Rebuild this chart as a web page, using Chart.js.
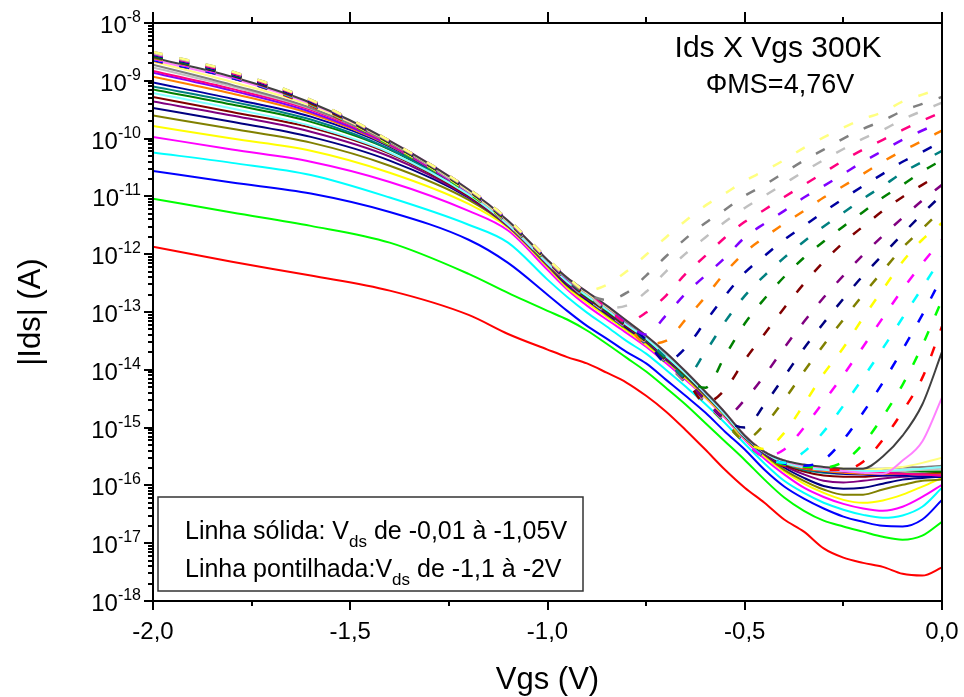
<!DOCTYPE html>
<html>
<head>
<meta charset="utf-8">
<script src="https://cdn.jsdelivr.net/npm/chart.js@4.4.1/dist/chart.umd.min.js"></script>
<style>
  html, body { margin: 0; padding: 0; background: #fff; }
  #wrap { width: 964px; height: 697px; }
</style>
</head>
<body>
<div id="wrap"><canvas id="chart" width="964" height="697"></canvas></div>
<script>
// Vgs sample points (V)
const vgs = [-2.0, -1.8, -1.6, -1.4, -1.2, -1.1, -1.0, -0.95, -0.9, -0.85, -0.8, -0.75, -0.7, -0.65, -0.6,
  -0.55, -0.5, -0.45, -0.4, -0.35, -0.3, -0.25, -0.2, -0.15, -0.1, -0.05, 0.0];

// Vds of each curve
const solidVds = [-0.01, -0.05, -0.1, -0.15, -0.2, -0.25, -0.3, -0.35, -0.4, -0.45, -0.5, -0.55, -0.6,
  -0.65, -0.7, -0.75, -0.8, -0.85, -0.9, -0.95, -1.0, -1.05];
const dashVds = [-1.1, -1.15, -1.2, -1.25, -1.3, -1.35, -1.4, -1.45, -1.5, -1.55, -1.6, -1.65, -1.7,
  -1.75, -1.8, -1.85, -1.9, -1.95, -2.0];

// |Ids|, stored as log10(A)
// solid lines, Vds -0.01 ... -1.05
const s01 = [-11.87,-12.13,-12.37,-12.63,-13.05,-13.38,-13.65,-13.78,-13.89,-14.05,-14.22,-14.45,-14.72,-15.04,-15.38,-15.73,-16.04,-16.30,-16.59,-16.80,-17.09,-17.25,-17.34,-17.41,-17.53,-17.56,-17.42];
const s02 = [-11.04,-11.28,-11.51,-11.80,-12.34,-12.67,-12.98,-13.13,-13.32,-13.55,-13.79,-14.03,-14.31,-14.60,-14.92,-15.24,-15.56,-15.90,-16.21,-16.44,-16.61,-16.71,-16.80,-16.89,-16.94,-16.87,-16.63];
const s03 = [-10.56,-10.76,-10.95,-11.27,-11.75,-12.15,-12.70,-12.98,-13.24,-13.46,-13.69,-13.89,-14.17,-14.45,-14.74,-15.07,-15.38,-15.73,-16.02,-16.23,-16.40,-16.54,-16.63,-16.70,-16.71,-16.59,-16.25];
const s04 = [-10.24,-10.42,-10.63,-11.02,-11.49,-11.80,-12.44,-12.74,-13.01,-13.25,-13.50,-13.72,-14.00,-14.29,-14.59,-14.92,-15.28,-15.62,-15.92,-16.13,-16.30,-16.42,-16.51,-16.56,-16.52,-16.37,-16.04];
const s05 = [-9.97,-10.19,-10.40,-10.75,-11.25,-11.59,-12.27,-12.61,-12.89,-13.13,-13.36,-13.60,-13.88,-14.17,-14.48,-14.83,-15.21,-15.54,-15.81,-16.04,-16.20,-16.32,-16.40,-16.44,-16.37,-16.20,-15.99];
const s06 = [-9.78,-10.00,-10.21,-10.59,-11.13,-11.54,-12.22,-12.58,-12.84,-13.08,-13.32,-13.57,-13.84,-14.14,-14.47,-14.81,-15.19,-15.50,-15.76,-15.97,-16.13,-16.25,-16.30,-16.26,-16.16,-16.02,-15.87];
const s07 = [-9.60,-9.83,-10.07,-10.47,-11.06,-11.52,-12.20,-12.55,-12.80,-13.05,-13.29,-13.53,-13.83,-14.12,-14.45,-14.79,-15.17,-15.47,-15.73,-15.92,-16.07,-16.16,-16.16,-16.07,-15.99,-15.92,-15.90];
const s08 = [-9.47,-9.71,-9.97,-10.38,-11.02,-11.51,-12.18,-12.53,-12.79,-13.03,-13.27,-13.51,-13.81,-14.10,-14.43,-14.79,-15.17,-15.45,-15.69,-15.87,-16.01,-16.06,-16.04,-15.97,-15.90,-15.87,-15.85];
const s09 = [-9.36,-9.60,-9.88,-10.31,-11.01,-11.51,-12.18,-12.51,-12.77,-13.01,-13.25,-13.50,-13.79,-14.10,-14.43,-14.78,-15.16,-15.45,-15.66,-15.81,-15.92,-15.95,-15.92,-15.88,-15.85,-15.83,-15.81];
const s10 = [-9.28,-9.54,-9.81,-10.26,-10.99,-11.49,-12.16,-12.49,-12.75,-12.99,-13.24,-13.48,-13.77,-14.09,-14.41,-14.78,-15.16,-15.43,-15.64,-15.76,-15.83,-15.85,-15.85,-15.83,-15.81,-15.80,-15.78];
const s11 = [-9.15,-9.41,-9.71,-10.19,-10.97,-11.47,-12.15,-12.48,-12.74,-12.98,-13.22,-13.48,-13.76,-14.09,-14.41,-14.78,-15.16,-15.43,-15.62,-15.73,-15.76,-15.78,-15.78,-15.78,-15.76,-15.76,-15.76];
const s12 = [-9.10,-9.36,-9.67,-10.18,-10.95,-11.47,-12.15,-12.46,-12.72,-12.96,-13.20,-13.46,-13.76,-14.07,-14.41,-14.76,-15.16,-15.43,-15.62,-15.73,-15.78,-15.80,-15.80,-15.81,-15.81,-15.83,-15.83];
const s13 = [-9.03,-9.31,-9.62,-10.14,-10.95,-11.47,-12.15,-12.46,-12.70,-12.94,-13.20,-13.46,-13.74,-14.07,-14.40,-14.76,-15.16,-15.43,-15.61,-15.71,-15.76,-15.80,-15.81,-15.83,-15.83,-15.85,-15.85];
const s14 = [-8.93,-9.22,-9.57,-10.12,-10.94,-11.46,-12.13,-12.44,-12.70,-12.94,-13.19,-13.44,-13.74,-14.07,-14.40,-14.76,-15.14,-15.42,-15.61,-15.71,-15.75,-15.78,-15.80,-15.80,-15.80,-15.81,-15.81];
const s15 = [-8.86,-9.17,-9.54,-10.11,-10.94,-11.46,-12.13,-12.44,-12.68,-12.93,-13.19,-13.44,-13.74,-14.05,-14.40,-14.76,-15.14,-15.42,-15.59,-15.69,-15.73,-15.76,-15.78,-15.78,-15.80,-15.81,-15.83];
const s16 = [-8.83,-9.14,-9.50,-10.09,-10.92,-11.46,-12.13,-12.42,-12.68,-12.93,-13.17,-13.43,-13.72,-14.05,-14.40,-14.76,-15.14,-15.42,-15.59,-15.69,-15.73,-15.75,-15.76,-15.78,-15.80,-15.81,-15.83];
const s17 = [-8.77,-9.10,-9.48,-10.07,-10.92,-11.44,-12.11,-12.42,-12.67,-12.91,-13.17,-13.43,-13.72,-14.05,-14.40,-14.74,-15.14,-15.42,-15.59,-15.68,-15.71,-15.73,-15.75,-15.75,-15.75,-15.73,-15.71];
const s18 = [-8.72,-9.07,-9.47,-10.07,-10.90,-11.44,-12.11,-12.42,-12.67,-12.91,-13.17,-13.43,-13.72,-14.03,-14.38,-14.74,-15.14,-15.42,-15.57,-15.66,-15.69,-15.71,-15.71,-15.71,-15.69,-15.68,-15.66];
const s19 = [-8.67,-9.02,-9.43,-10.05,-10.90,-11.44,-12.11,-12.41,-12.67,-12.91,-13.15,-13.41,-13.70,-14.03,-14.38,-14.74,-15.14,-15.42,-15.57,-15.66,-15.69,-15.71,-15.73,-15.71,-15.68,-15.61,-15.52];
const s20 = [-9.21,-9.48,-9.78,-10.24,-10.97,-11.49,-12.16,-12.48,-12.72,-12.96,-13.22,-13.46,-13.76,-14.07,-14.41,-14.78,-15.16,-15.43,-15.61,-15.69,-15.73,-15.75,-15.75,-15.75,-15.73,-15.71,-15.68];
const s21 = [-8.64,-8.96,-9.40,-10.04,-10.88,-11.42,-12.10,-12.41,-12.65,-12.89,-13.15,-13.41,-13.70,-14.03,-14.38,-14.74,-15.14,-15.42,-15.57,-15.66,-15.69,-15.75,-15.78,-15.80,-15.57,-15.24,-14.48];
const s22 = [-8.60,-8.93,-9.38,-10.04,-10.88,-11.42,-12.10,-12.41,-12.65,-12.89,-13.15,-13.41,-13.70,-14.03,-14.38,-14.74,-15.14,-15.42,-15.57,-15.64,-15.68,-15.71,-15.71,-15.50,-15.14,-14.60,-13.69];

// dashed lines, Vds -1.1 ... -2.0
const d01 = [-8.65,-8.95,-9.43,-10.11,-10.94,-11.47,-12.15,-12.49,-12.79,-13.03,-13.29,-13.55,-13.88,-14.22,-14.57,-14.92,-15.26,-15.52,-15.66,-15.69,-15.73,-15.73,-15.59,-15.21,-14.72,-14.14,-13.25];
const d02 = [-8.64,-8.95,-9.41,-10.11,-10.94,-11.47,-12.15,-12.48,-12.77,-13.03,-13.29,-13.55,-13.88,-14.22,-14.57,-14.92,-15.26,-15.52,-15.64,-15.68,-15.69,-15.59,-15.28,-14.81,-14.26,-13.58,-12.79];
const d03 = [-8.64,-8.95,-9.41,-10.09,-10.92,-11.46,-12.13,-12.48,-12.77,-13.03,-13.27,-13.55,-13.86,-14.21,-14.55,-14.90,-15.24,-15.50,-15.62,-15.66,-15.56,-15.21,-14.74,-14.22,-13.65,-13.05,-12.39];
const d04 = [-8.62,-8.93,-9.41,-10.09,-10.92,-11.46,-12.13,-12.48,-12.77,-13.01,-13.27,-13.53,-13.86,-14.21,-14.55,-14.90,-15.24,-15.50,-15.61,-15.42,-15.07,-14.62,-14.14,-13.63,-13.10,-12.58,-12.04];
const d05 = [-8.62,-8.93,-9.40,-10.09,-10.92,-11.46,-12.13,-12.48,-12.75,-13.01,-13.27,-13.53,-13.86,-14.21,-14.55,-14.90,-15.23,-15.49,-15.38,-15.00,-14.55,-14.09,-13.60,-13.10,-12.61,-12.16,-11.75];
const d06 = [-8.60,-8.91,-9.40,-10.09,-10.92,-11.46,-12.13,-12.46,-12.75,-13.01,-13.25,-13.53,-13.84,-14.19,-14.53,-14.88,-15.23,-15.37,-15.09,-14.60,-14.07,-13.62,-13.10,-12.61,-12.13,-11.75,-11.46];
const d07 = [-8.60,-8.91,-9.40,-10.07,-10.90,-11.44,-12.11,-12.46,-12.75,-12.99,-13.25,-13.51,-13.84,-14.19,-14.53,-14.88,-15.21,-14.95,-14.52,-14.03,-13.57,-13.13,-12.70,-12.29,-11.89,-11.56,-11.23];
const d08 = [-8.58,-8.91,-9.38,-10.07,-10.90,-11.44,-12.11,-12.46,-12.74,-12.99,-13.25,-13.51,-13.83,-14.17,-14.52,-14.86,-15.00,-14.60,-14.12,-13.63,-13.19,-12.77,-12.37,-12.01,-11.65,-11.30,-10.97];
const d09 = [-8.58,-8.89,-9.38,-10.07,-10.90,-11.44,-12.11,-12.46,-12.74,-12.99,-13.24,-13.50,-13.83,-14.17,-14.52,-14.81,-14.52,-14.10,-13.62,-13.17,-12.75,-12.37,-12.01,-11.68,-11.37,-11.07,-10.80];
const d10 = [-8.57,-8.89,-9.38,-10.07,-10.90,-11.44,-12.11,-12.44,-12.74,-12.98,-13.24,-13.50,-13.81,-14.15,-14.57,-14.34,-13.83,-13.38,-12.93,-12.51,-12.13,-11.80,-11.52,-11.25,-11.01,-10.80,-10.59];
const d11 = [-8.57,-8.89,-9.36,-10.07,-10.90,-11.44,-12.11,-12.44,-12.72,-12.98,-13.22,-13.50,-13.81,-14.14,-14.31,-13.76,-13.20,-12.77,-12.39,-12.06,-11.78,-11.52,-11.27,-11.02,-10.80,-10.57,-10.37];
const d12 = [-8.55,-8.88,-9.36,-10.05,-10.88,-11.42,-12.10,-12.44,-12.72,-12.96,-13.22,-13.48,-13.79,-14.12,-13.69,-13.17,-12.72,-12.37,-12.06,-11.78,-11.52,-11.28,-11.04,-10.82,-10.59,-10.40,-10.21];
const d13 = [-8.55,-8.88,-9.36,-10.05,-10.88,-11.42,-12.10,-12.42,-12.70,-12.96,-13.20,-13.48,-13.86,-13.62,-13.17,-12.72,-12.32,-12.03,-11.75,-11.51,-11.27,-11.04,-10.82,-10.61,-10.40,-10.23,-10.05];
const d14 = [-8.53,-8.86,-9.34,-10.05,-10.88,-11.42,-12.10,-12.42,-12.70,-12.94,-13.20,-13.55,-13.50,-13.13,-12.74,-12.32,-11.97,-11.71,-11.47,-11.25,-11.02,-10.82,-10.61,-10.40,-10.21,-10.04,-9.86];
const d15 = [-8.53,-8.86,-9.34,-10.05,-10.88,-11.42,-12.10,-12.42,-12.68,-12.93,-13.19,-13.39,-13.06,-12.68,-12.37,-12.06,-11.71,-11.47,-11.25,-11.02,-10.82,-10.61,-10.40,-10.21,-10.02,-9.86,-9.71];
const d16 = [-8.52,-8.86,-9.34,-10.04,-10.87,-11.40,-12.08,-12.41,-12.68,-12.93,-13.17,-13.01,-12.72,-12.34,-12.03,-11.71,-11.44,-11.23,-11.01,-10.80,-10.59,-10.38,-10.19,-10.02,-9.85,-9.69,-9.54];
const d17 = [-8.52,-8.84,-9.33,-10.04,-10.87,-11.40,-12.08,-12.41,-12.68,-12.93,-12.89,-12.65,-12.30,-11.99,-11.71,-11.44,-11.20,-10.99,-10.78,-10.57,-10.37,-10.18,-10.00,-9.85,-9.67,-9.52,-9.38];
const d18 = [-8.50,-8.84,-9.33,-10.04,-10.87,-11.40,-12.08,-12.39,-12.68,-12.79,-12.67,-12.37,-12.04,-11.73,-11.46,-11.23,-10.99,-10.80,-10.59,-10.38,-10.19,-10.00,-9.83,-9.69,-9.52,-9.40,-9.28];
const d19 = [-8.50,-8.84,-9.33,-10.04,-10.87,-11.40,-12.08,-12.39,-12.63,-12.53,-12.30,-12.01,-11.71,-11.42,-11.16,-10.95,-10.73,-10.56,-10.37,-10.16,-9.98,-9.81,-9.66,-9.54,-9.36,-9.24,-9.12];

const solidSeries = [s01, s02, s03, s04, s05, s06, s07, s08, s09, s10, s11, s12, s13, s14, s15, s16, s17, s18, s19, s20, s21, s22];
const dashSeries = [d01, d02, d03, d04, d05, d06, d07, d08, d09, d10, d11, d12, d13, d14, d15, d16, d17, d18, d19];

// Origin style colour increment
const palette = ['#FF0000', '#00FF00', '#0000FF', '#00FFFF', '#FF00FF', '#FFFF00', '#808000', '#000080',
  '#800080', '#800000', '#008000', '#008080', '#0000A0', '#FF8000', '#8000FF', '#FF0080', '#C0C0C0',
  '#808080', '#FFFF80', '#80FFFF', '#FF80FF', '#404040'];

const FONT = '"Liberation Sans", Arial, sans-serif';

const toPoints = (logs) => logs.map((v, i) => ({ x: vgs[i], y: Math.pow(10, v) }));

const makeSet = (logs, i, vds, dashed) => ({
    label: 'Vds ' + vds + ' V',
    data: toPoints(logs),
    borderColor: palette[i],
    borderWidth: dashed ? 2.5 : 2,
    borderDash: dashed ? [10, 17] : [],
    pointRadius: 0,
    fill: false,
    cubicInterpolationMode: 'monotone'
});

// first dataset is painted last, so the dashed family sits on top
const datasets = [];
for (let i = dashSeries.length - 1; i >= 0; i--) datasets.push(makeSet(dashSeries[i], i, dashVds[i], true));
for (let i = solidSeries.length - 1; i >= 0; i--) datasets.push(makeSet(solidSeries[i], i, solidVds[i], false));

// frame, ticks, labels and notes in the Origin look
const originFrame = {
    id: 'originFrame',
    afterDatasetsDraw(chart) {
        const { ctx, chartArea: a, scales: { x, y } } = chart;
        ctx.save();
        ctx.strokeStyle = '#000';
        ctx.lineWidth = 2;
        ctx.strokeRect(a.left, a.top, a.right - a.left, a.bottom - a.top);

        ctx.beginPath();
        for (let v = x.min; v <= x.max + 1e-9; v += 0.25) {
            const px = Math.round(x.getPixelForValue(v));
            const major = Math.abs(v * 2 - Math.round(v * 2)) < 1e-6;
            ctx.moveTo(px, a.bottom);
            ctx.lineTo(px, a.bottom + (major ? 9 : 5));
            ctx.moveTo(px, a.top);
            ctx.lineTo(px, a.top - (major ? 11 : 6));
        }
        const nLo = Math.round(Math.log10(y.min));
        const nHi = Math.round(Math.log10(y.max));
        for (let n = nLo; n <= nHi; n++) {
            const py = Math.round(y.getPixelForValue(Math.pow(10, n)));
            ctx.moveTo(a.left, py);
            ctx.lineTo(a.left - 9, py);
            if (n === nHi) continue;
            for (let m = 2; m <= 9; m++) {
                const q = Math.round(y.getPixelForValue(m * Math.pow(10, n)));
                ctx.moveTo(a.left, q);
                ctx.lineTo(a.left - 5, q);
            }
        }
        ctx.stroke();

        // y tick labels: 10 with raised exponent
        ctx.fillStyle = '#000';
        ctx.textAlign = 'left';
        ctx.textBaseline = 'alphabetic';
        for (let n = nLo; n <= nHi; n++) {
            const py = y.getPixelForValue(Math.pow(10, n));
            const exp = String(n);
            ctx.font = '16px ' + FONT;
            const we = ctx.measureText(exp).width;
            ctx.font = '24px ' + FONT;
            const wb = ctx.measureText('10').width;
            const right = a.left - 12;
            ctx.fillText('10', right - we - wb, py + 10);
            ctx.font = '16px ' + FONT;
            ctx.fillText(exp, right - we, py - 1);
        }

        // axis titles
        ctx.textAlign = 'center';
        ctx.textBaseline = 'middle';
        ctx.font = '31px ' + FONT;
        ctx.fillText('Vgs (V)', (a.left + a.right) / 2, 680);
        ctx.save();
        ctx.translate(31, (a.top + a.bottom) / 2);
        ctx.rotate(-Math.PI / 2);
        ctx.fillText('|Ids| (A)', 0, 0);
        ctx.restore();

        // notes at top right
        ctx.textBaseline = 'alphabetic';
        ctx.font = '30px ' + FONT;
        ctx.fillText('Ids X Vgs 300K', 778, a.top + 34);
        ctx.font = '27px ' + FONT;
        ctx.fillText('\u03A6MS=4,76V', 780, a.top + 70);

        // legend box
        const bx = a.left + 5, by = a.bottom - 104, bw = 425, bh = 94;
        ctx.lineWidth = 1.5;
        ctx.strokeStyle = '#333';
        ctx.strokeRect(bx, by, bw, bh);
        const line = (parts, tx, ty) => {
            ctx.textAlign = 'left';
            let cx = tx;
            parts.forEach(([txt, sub]) => {
                ctx.font = (sub ? '17px ' : '25px ') + FONT;
                ctx.fillText(txt, cx, sub ? ty + 8 : ty);
                cx += ctx.measureText(txt).width;
            });
        };
        line([['Linha s\u00f3lida: V', false], ['ds', true], [' de -0,01 \u00e0 -1,05V', false]], bx + 27, by + 42);
        line([['Linha pontilhada:V', false], ['ds', true], [' de -1,1 \u00e0 -2V', false]], bx + 27, by + 80);
        ctx.restore();
    }
};

new Chart(document.getElementById('chart'), {
    type: 'line',
    data: { datasets },
    options: {
        responsive: false,
        animation: false,
        events: [],
        layout: { padding: { left: 0, right: 22, top: 23, bottom: 0 } },
        plugins: { legend: { display: false }, tooltip: { enabled: false } },
        scales: {
            x: {
                type: 'linear',
                min: -2,
                max: 0,
                grid: { display: false, drawTicks: false },
                border: { display: false },
                ticks: {
                    stepSize: 0.5,
                    padding: 17,
                    color: '#000',
                    font: { family: FONT, size: 24 },
                    callback: (v) => v.toFixed(1).replace('.', ',')
                },
                afterFit: (scale) => {
                    scale.height = 96;
                    scale.paddingLeft = 0;
                    scale.paddingRight = 0;
                }
            },
            y: {
                type: 'logarithmic',
                min: 1e-18,
                max: 1e-8,
                grid: { display: false, drawTicks: false },
                border: { display: false },
                ticks: { display: false },
                afterFit: (scale) => { scale.width = 153; }
            }
        }
    },
    plugins: [originFrame]
});
</script>
</body>
</html>
